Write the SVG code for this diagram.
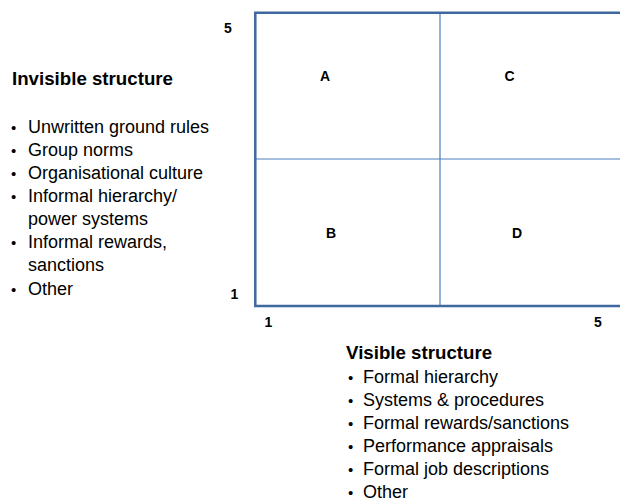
<svg xmlns="http://www.w3.org/2000/svg" width="620" height="502" viewBox="0 0 620 502">
<style>
text{font-family:"Liberation Sans",Arial,sans-serif;fill:#000}
.h{font-size:18.7px;font-weight:bold}
.li{font-size:18px}
.bu{font-size:15px}
.lbl{font-size:14px;font-weight:bold;text-anchor:middle}
.ax{font-size:14px;font-weight:bold;text-anchor:middle}
.frame{fill:none;stroke:#3f689e;stroke-width:2.5}
.grid{stroke:#4a7ebb;stroke-width:1.2}
</style>
<rect width="620" height="502" fill="#fff"/>
<g id="matrix">
<g id="connectors">
<line class="grid" x1="440" y1="12.7" x2="440" y2="306"/>
<line class="grid" x1="255.3" y1="159" x2="620" y2="159"/>
</g>
<path class="frame" d="M622 12.7 H255.3 V306 H622"/>
</g>
<g id="quad-A"><text class="lbl" x="325" y="81">A</text></g>
<g id="quad-C"><text class="lbl" x="509.5" y="81">C</text></g>
<g id="quad-B"><text class="lbl" x="331" y="237.5">B</text></g>
<g id="quad-D"><text class="lbl" x="517" y="237.5">D</text></g>
<g id="axis-labels">
<text class="ax" x="228" y="33">5</text>
<text class="ax" x="234.5" y="299">1</text>
<text class="ax" x="268.5" y="327">1</text>
<text class="ax" x="598" y="327">5</text>
</g>
<g id="invisible">
<text class="h" x="12" y="85">Invisible structure</text>
<g class="bu">
<text x="11" y="133">•</text><text x="11" y="156">•</text><text x="11" y="179">•</text><text x="11" y="202">•</text><text x="11" y="248">•</text><text x="11" y="295">•</text>
</g>
<g class="li">
<text x="28" y="133">Unwritten ground rules</text>
<text x="28" y="156">Group norms</text>
<text x="28" y="179">Organisational culture</text>
<text x="28" y="202">Informal hierarchy/</text>
<text x="28" y="225">power systems</text>
<text x="28" y="248">Informal rewards,</text>
<text x="28" y="271">sanctions</text>
<text x="28" y="295">Other</text>
</g>
</g>
<g id="visible">
<text class="h" x="346" y="359">Visible structure</text>
<g class="bu">
<text x="348" y="383">•</text><text x="348" y="406">•</text><text x="348" y="429">•</text><text x="348" y="452">•</text><text x="348" y="475">•</text><text x="348" y="498">•</text>
</g>
<g class="li">
<text x="363" y="383">Formal hierarchy</text>
<text x="363" y="406">Systems &amp; procedures</text>
<text x="363" y="429">Formal rewards/sanctions</text>
<text x="363" y="452">Performance appraisals</text>
<text x="363" y="475">Formal job descriptions</text>
<text x="363" y="498">Other</text>
</g>
</g>
</svg>
